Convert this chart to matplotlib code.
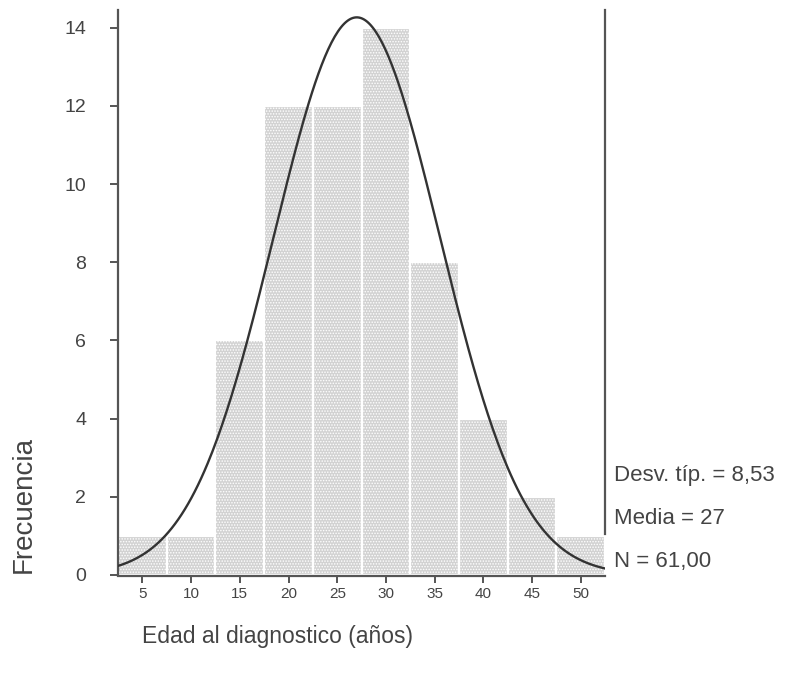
import numpy as np
import matplotlib
matplotlib.use("Agg")
import matplotlib.pyplot as plt

plt.rcParams["font.family"] = ["Liberation Sans", "DejaVu Sans"]
plt.rcParams["hatch.color"] = "#959595"
plt.rcParams["hatch.linewidth"] = 0.7

# histogram data (bin centres, counts)
bin_centres = [5, 10, 15, 20, 25, 30, 35, 40, 45, 50]
counts = [1, 1, 6, 12, 12, 14, 8, 4, 2, 1]
bin_width = 5

# summary stats shown on the chart
sd = 8.53
mean = 27
n = 61
stats_lines = ["Desv. típ. = 8,53", "Media = 27", "N = 61,00"]

y_ticks = [0, 2, 4, 6, 8, 10, 12, 14]

TXT = "#444444"

fig = plt.figure(figsize=(7.87, 6.74), dpi=100)
ax = fig.add_axes([0.150, 0.147, 0.619, 0.838])

ax.bar(bin_centres, counts, width=bin_width, color="#d2d2d2",
       edgecolor="white", linewidth=1.6, hatch="......", zorder=1)

# fitted normal curve
xs = np.linspace(2.5, 52.5, 300)
ys = n * bin_width / (sd * np.sqrt(2 * np.pi)) * np.exp(-0.5 * ((xs - mean) / sd) ** 2)
ax.plot(xs, ys, color="#333333", linewidth=1.7, zorder=3)

ax.set_xlim(2.5, 52.5)
ax.set_ylim(0, 14.45)
ax.set_xticks(bin_centres)
ax.set_yticks(y_ticks)

ax.spines["top"].set_visible(False)
for s in ("left", "bottom", "right"):
    ax.spines[s].set_color("#555555")
    ax.spines[s].set_linewidth(1.6)
ax.spines["right"].set_bounds(1.05, 14.45)
ax.spines["bottom"].set_position(("outward", 1))

ax.tick_params(axis="y", direction="out", length=6, width=1.4, color="#555555",
               labelsize=14, labelcolor=TXT, pad=17)
ax.tick_params(axis="x", direction="out", length=5, width=1.4, color="#555555",
               labelsize=11, labelcolor=TXT, pad=3)
ax.tick_params(axis="y", right=False)

fig.text(0.352, 0.055, "Edad al diagnostico (años)", ha="center", va="center",
         fontsize=16.5, color=TXT)
fig.text(0.030, 0.252, "Frecuencia", ha="center", va="center", rotation=90,
         fontsize=20, color=TXT)

for i, line in enumerate(stats_lines):
    fig.text(0.780, 1 - (476 + 43 * i) / 674, line, ha="left", va="center",
             fontsize=16, color=TXT)

fig.savefig("out.png", dpi=100, facecolor="white")
